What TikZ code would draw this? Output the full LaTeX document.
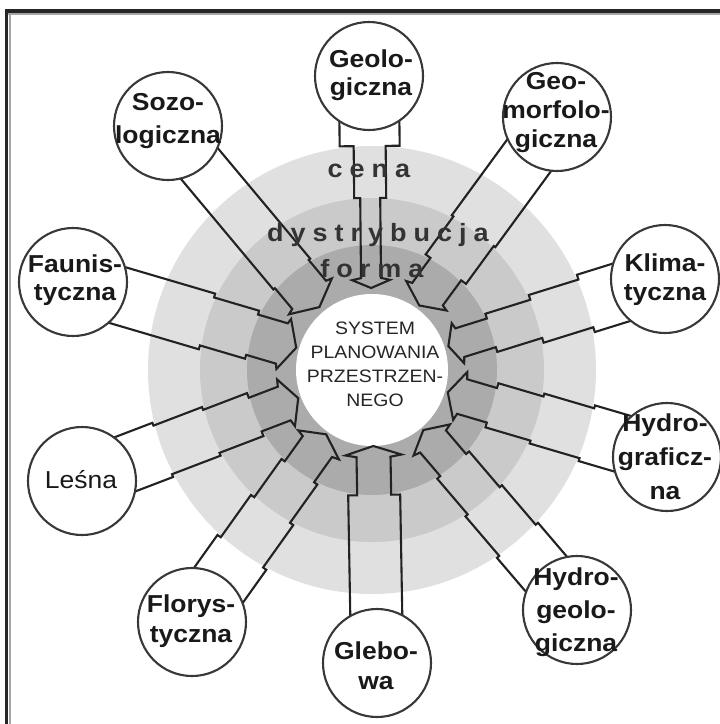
\documentclass[tikz,border=0pt]{standalone}
\usepackage{fontspec}
\setmainfont{Liberation Sans}[FakeStretch=1.08]
\usetikzlibrary{calc}
\definecolor{ringA}{HTML}{E0E0E0}
\definecolor{ringB}{HTML}{CACACA}
\definecolor{ringC}{HTML}{ABABAB}
\definecolor{ink}{HTML}{222222}
\definecolor{circ}{HTML}{383838}
\definecolor{ringtxt}{HTML}{333333}
\newcommand\lsk{\kern7pt}
% #1 angle, #2 dist, #3-#6 half widths, #7 barb, #8 head base, #9 tip
\newcommand\stepArrow[9]{%
\begin{scope}[shift={(C)}, rotate={-(#1)}]
\draw[arrowline] (#2,#3) -- (224,#3) -- (224,#4) -- (172,#4) -- (172,#5) -- (125,#5) -- (125,#6) -- (#8,#6) -- (#8-2,#7) -- (#9,0) -- (#8-2,-#7) -- (#8,-#6) -- (125,-#6) -- (125,-#5) -- (172,-#5) -- (172,-#4) -- (224,-#4) -- (224,-#3) -- (#2,-#3);
\end{scope}}
\tikzset{
  arrowline/.style={draw=ink, line width=2.1pt, line join=miter},
  bubble/.style={circle, draw=circ, fill=white, line width=2.1pt, minimum size=108pt, inner sep=0pt},
  lab/.style={align=center, text=black!90, font=\bfseries\fontsize{24.5}{#1}\selectfont, inner sep=0pt},
  lab/.default=29,
  ringlab/.style={anchor=base, text=ringtxt, font=\bfseries\fontsize{25}{30}\selectfont, inner sep=0pt},
}
\begin{document}
\begin{tikzpicture}[x=1pt, y=-1pt]
\useasboundingbox (0,0) rectangle (720,724);
% frame
\draw[line width=3.5pt, black!85] (5,11) -- (720,11);
\draw[line width=2pt, black!35] (8,14) -- (720,14);
\draw[line width=3.5pt, black!85] (6.5,9.5) -- (6.5,724);
\draw[line width=2pt, black!35] (9.5,14) -- (9.5,724);
% rings
\coordinate (C) at (372,370);
\fill[ringA] (C) circle[radius=224pt];
\fill[ringB] (C) circle[radius=172pt];
\fill[ringC] (C) circle[radius=125pt];
\fill[white] (C) circle[radius=76pt];
% arrows
\stepArrow{-90.6}{294}{30}{16}{10}{10}{19}{92}{82}
\stepArrow{-53.8}{313}{27}{27}{25}{19}{25}{94}{80}
\stepArrow{-17.3}{307}{30}{25}{20}{15}{21}{92}{80}
\stepArrow{16.4}{308}{29}{26}{23}{18}{25}{94}{79}
\stepArrow{49.5}{316}{27}{24}{21}{17}{24}{94}{79}
\stepArrow{89.0}{293}{26}{26}{26}{17}{28}{87}{76}
\stepArrow{125.5}{310}{30}{26}{22}{18}{25}{94}{79}
\stepArrow{159.1}{311}{29}{26}{23}{18}{25}{94}{79}
\stepArrow{196.4}{312}{29}{29}{25}{21}{26}{94}{79}
\stepArrow{230.1}{318}{24}{24}{24}{22}{28}{98}{82}
% ring labels
\node[ringlab] (cena) at (369,177) {c\lsk e\lsk n\lsk a};
\node[ringlab] (dystr) at (378,241) {d\lsk y\lsk s\lsk t\lsk r\lsk y\lsk b\lsk u\lsk c\lsk j\lsk a};
\node[ringlab] (forma) at (372,277) {f\lsk o\lsk r\lsk m\lsk a};
% centre text
\node[align=center, text=black!85, font=\fontsize{18}{24}\selectfont, inner sep=0pt] (sys) at (375,364) {SYSTEM\\PLANOWANIA\\PRZESTRZEN-\\NEGO};
% bubbles
\node[bubble] (geo) at (369,76) {};
\node[bubble] (soz) at (168,126) {};
\node[bubble] (geom) at (557,117) {};
\node[bubble] (klim) at (665,279) {};
\node[bubble] (hgraf) at (667,457) {};
\node[bubble] (hgeo) at (577,610) {};
\node[bubble] (gleb) at (377,663) {};
\node[bubble] (flor) at (192,622) {};
\node[bubble] (lesna) at (82,481) {};
\node[bubble] (faun) at (73,282) {};
% bubble texts
\node[lab=28] (tgeo) at (371,75) {Geolo-\\giczna};
\node[lab=33] (tsoz) at (168,121) {Sozo-\\logiczna};
\node[lab=29] (tgeom) at (556,113) {Geo-\\morfolo-\\giczna};
\node[lab=29] (tklim) at (665,280) {Klima-\\tyczna};
\node[lab=34] (thgraf) at (665,457) {Hydro-\\graficz-\\na};
\node[lab=33] (thgeo) at (576,612) {Hydro-\\geolo-\\giczna};
\node[lab=30] (tgleb) at (376,666) {Glebo-\\wa};
\node[lab=30] (tflor) at (191,621) {Florys-\\tyczna};
\node[lab=29, font=\fontsize{24.5}{29}\selectfont] (tlesna) at (81,480) {Leśna};
\node[lab=28] (tfaun) at (75,280) {Faunis-\\tyczna};
\end{tikzpicture}
\end{document}
